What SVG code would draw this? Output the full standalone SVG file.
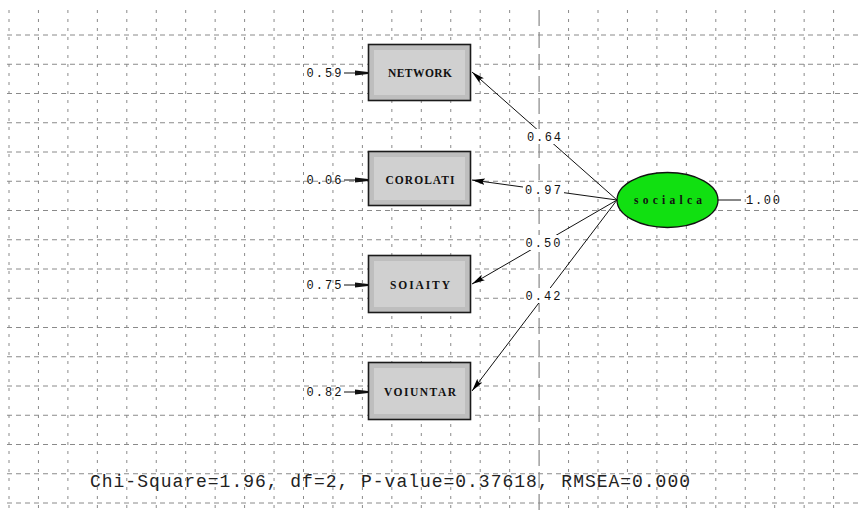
<svg xmlns="http://www.w3.org/2000/svg" width="858" height="510" viewBox="0 0 858 510">
<defs>
<marker id="ah" markerUnits="userSpaceOnUse" markerWidth="14" markerHeight="10" refX="13" refY="4" orient="auto">
<path d="M0,0.8 L13,4 L0,7.2 L2.5,4 Z" fill="#000"/>
</marker>
<marker id="eh" markerUnits="userSpaceOnUse" markerWidth="14" markerHeight="10" refX="13" refY="4" orient="auto">
<path d="M0,1.5 L13,3 L13,5 L0,6.5 Z" fill="#111"/>
</marker>
</defs>
<style>
.gv{stroke:#8a8a8a;stroke-width:1;stroke-dasharray:3 6;fill:none}
.gh{stroke:#8a8a8a;stroke-width:1;stroke-dasharray:5 4;fill:none}
.gc{stroke:#888;stroke-width:1.2;stroke-dasharray:16 6;fill:none}
.box{fill:#bebebe;stroke:#1a1a1a;stroke-width:1.6}
.inner{fill:#d0d0d0}
.nl{font-family:"Liberation Serif",serif;font-weight:bold;font-size:11.5px;fill:#111;text-anchor:middle}
.num{font-family:"Liberation Mono",monospace;font-size:12px;fill:#111;text-anchor:middle}
.edge{stroke:#111;stroke-width:1;fill:none}
.lbg{fill:#fff}
.foot{font-family:"Liberation Mono",monospace;font-size:18px;fill:#222}
</style>
<rect width="858" height="510" fill="#fff"/>
<g id="grid">
<path class="gv" d="M9 10V510M38.45 10V510M67.9 10V510M97.35 10V510M126.8 10V510M156.25 10V510M185.7 10V510M215.15 10V510M244.6 10V510M274.05 10V510M303.5 10V510M332.95 10V510M362.4 10V510M391.85 10V510M421.3 10V510M450.75 10V510M480.2 10V510M509.65 10V510M568.55 10V510M598 10V510M627.45 10V510M656.9 10V510M686.35 10V510M715.8 10V510M745.25 10V510M774.7 10V510M804.15 10V510M833.6 10V510"/>
<path class="gh" d="M7 35H858M7 64.25H858M7 93.5H858M7 122.75H858M7 152H858M7 181.25H858M7 210.5H858M7 239.75H858M7 269H858M7 298.25H858M7 327.5H858M7 356.75H858M7 386H858M7 415.25H858M7 444.5H858M7 473.75H858M7 503H858"/>
<path class="gc" d="M539.1 10V510"/>
</g>
<g id="connectors">
<line class="edge" x1="617" y1="200" x2="472" y2="72" marker-end="url(#ah)"/>
<line class="edge" x1="617" y1="200" x2="472" y2="180" marker-end="url(#ah)"/>
<line class="edge" x1="617" y1="200" x2="472" y2="284" marker-end="url(#ah)"/>
<line class="edge" x1="617" y1="200" x2="472" y2="391" marker-end="url(#ah)"/>
<line class="edge" x1="344" y1="73" x2="368" y2="73" marker-end="url(#eh)"/>
<line class="edge" x1="344" y1="180" x2="368" y2="180" marker-end="url(#eh)"/>
<line class="edge" x1="344" y1="285" x2="368" y2="285" marker-end="url(#eh)"/>
<line class="edge" x1="344" y1="392" x2="368" y2="392" marker-end="url(#eh)"/>
<line class="edge" x1="718" y1="200" x2="741" y2="200"/>
<rect class="lbg" x="526" y="129" width="36" height="15"/>
<text class="num" x="544" y="141" textLength="34">0.64</text>
<rect class="lbg" x="523" y="183" width="41" height="14"/>
<text class="num" x="543" y="194" textLength="36">0.97</text>
<rect class="lbg" x="524" y="235" width="38" height="15"/>
<text class="num" x="543" y="247" textLength="35">0.50</text>
<rect class="lbg" x="524" y="288" width="38" height="15"/>
<text class="num" x="543" y="300" textLength="35">0.42</text>
</g>
<g id="network">
<rect class="box" x="368.5" y="44.5" width="102" height="56"/>
<rect class="inner" x="374" y="50" width="91" height="45"/>
<text class="nl" x="420" y="77" textLength="64">NETWORK</text>
<text class="num" x="324" y="77" textLength="35">0.59</text>
</g>
<g id="corolati">
<rect class="box" x="368.5" y="151.5" width="102" height="54"/>
<rect class="inner" x="374" y="157" width="91" height="43"/>
<text class="nl" x="420" y="184" textLength="69">COROLATI</text>
<text class="num" x="324" y="184" textLength="35">0.06</text>
</g>
<g id="soiaity">
<rect class="box" x="368.5" y="255.5" width="102" height="57"/>
<rect class="inner" x="374" y="261" width="91" height="46"/>
<text class="nl" x="420" y="289" textLength="60">SOIAITY</text>
<text class="num" x="324" y="289" textLength="35">0.75</text>
</g>
<g id="voiuntar">
<rect class="box" x="368.5" y="362.5" width="102" height="57"/>
<rect class="inner" x="374" y="368" width="91" height="46"/>
<text class="nl" x="420" y="396" textLength="72">VOIUNTAR</text>
<text class="num" x="324" y="396" textLength="35">0.82</text>
</g>
<g id="socialca">
<ellipse cx="667.5" cy="200" rx="50.5" ry="27.5" fill="#11e011" stroke="#111" stroke-width="1.3"/>
<text class="nl" x="668" y="204" textLength="68">socialca</text>
<text class="num" x="763" y="204" textLength="34">1.00</text>
</g>
<text class="foot" x="90" y="487" textLength="600">Chi-Square=1.96, df=2, P-value=0.37618, RMSEA=0.000</text>
</svg>
